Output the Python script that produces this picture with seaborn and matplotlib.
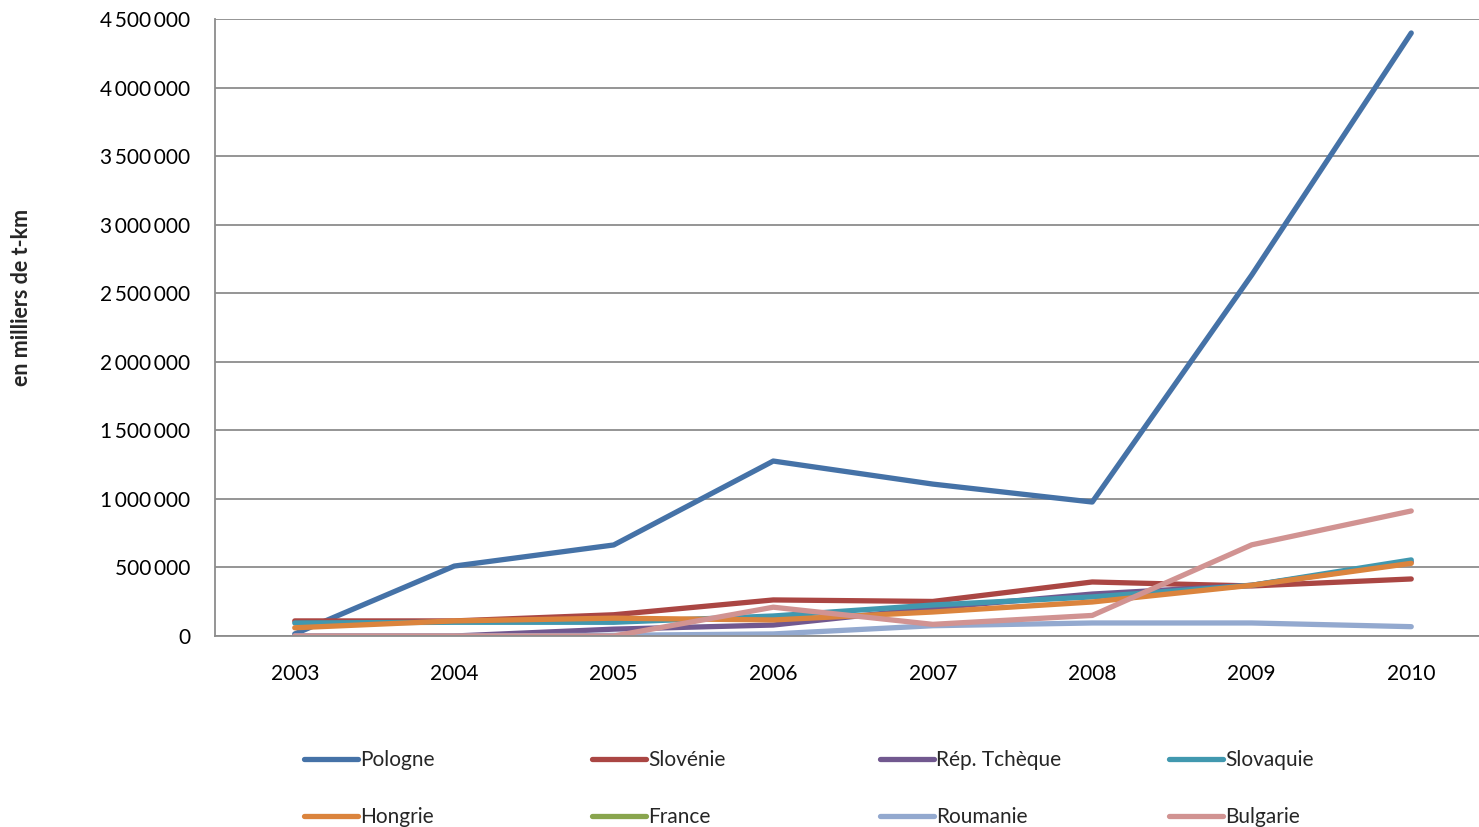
import matplotlib
matplotlib.use("Agg")
import matplotlib.pyplot as plt
import matplotlib.ticker as mticker
from matplotlib.lines import Line2D
import seaborn as sns
import pandas as pd
import numpy as np

years = [2003, 2004, 2005, 2006, 2007, 2008, 2009, 2010]
countries = ["Pologne", "Slovénie", "Rép. Tchèque", "Slovaquie",
             "Hongrie", "France", "Roumanie", "Bulgarie"]
pologne = [15000, 510000, 664000, 1276000, 1108000, 977000, 2633000, 4398000]
slovenie = [110000, 110000, 155000, 263000, 252000, 394000, 365000, 416000]
rep_tcheque = [0, 0, 50000, 80000, 204000, 306000, 370000, 540000]
slovaquie = [95000, 100000, 100000, 146000, 226000, 285000, 370000, 555000]
hongrie = [60000, 110000, 130000, 117000, 175000, 248000, 370000, 530000]
france = [np.nan] * 8  # no visible data for France
roumanie = [0, 0, 5000, 15000, 75000, 95000, 95000, 68000]
bulgarie = [0, 0, 0, 210000, 85000, 150000, 665000, 912000]
series = [pologne, slovenie, rep_tcheque, slovaquie, hongrie, france, roumanie, bulgarie]
colors = ["#4572A7", "#AA4643", "#71588F", "#4198AF",
          "#DB843D", "#89A54E", "#93A9CF", "#D19392"]

rows = []
for c, vals in zip(countries, series):
    for y, v in zip(years, vals):
        rows.append({"Année": y, "Valeur": v, "Pays": c})
df = pd.DataFrame(rows)

sns.set_theme(style="white")
plt.rcParams["font.family"] = ["Lato", "DejaVu Sans"]

fig = plt.figure(figsize=(14.79, 8.27), dpi=100)
ax = fig.add_axes([215 / 1479, 1 - 636 / 827, (1491 - 215) / 1479, (636 - 19) / 827])

pal = dict(zip(countries, colors))
for c in countries:
    sub = df[df["Pays"] == c].dropna()
    if len(sub) == 0:
        continue
    sns.lineplot(data=sub, x="Année", y="Valeur", color=pal[c], linewidth=3.8,
                 ax=ax, legend=False, solid_capstyle="round", solid_joinstyle="round")

ax.set_xlim(2002.5, 2010.5)
ax.set_ylim(0, 4500000)
ax.set_xticks(years)
ax.set_xticklabels([str(y) for y in years])
ax.yaxis.set_major_locator(mticker.MultipleLocator(500000))
ax.yaxis.set_major_formatter(mticker.FuncFormatter(lambda v, p: f"{int(v):,}".replace(",", "\u2009")))
ax.grid(axis="y", color="#8c8c8c", linewidth=1.3)
ax.set_axisbelow(True)
for s in ["top", "right"]:
    ax.spines[s].set_visible(False)
for s in ["left", "bottom"]:
    ax.spines[s].set_color("#8c8c8c")
    ax.spines[s].set_linewidth(1.3)
ax.tick_params(axis="y", labelsize=15, pad=15, length=3, width=1.3, color="#8c8c8c", labelcolor="black")
ax.tick_params(axis="x", labelsize=15, pad=20, length=0, labelcolor="black")
ax.set_xlabel("")
ax.set_ylabel("")
fig.text(22 / 1479, 1 - 297 / 827, "en milliers de t-km", rotation=90, fontsize=15.5,
         fontweight="bold", ha="center", va="center")

# legend: 2 rows x 4 columns, equally spaced like the original
col_x = [304, 592, 880, 1169]
row_y = [760, 817]
for i, (c, col) in enumerate(zip(countries, colors)):
    r, k = divmod(i, 4)
    h = Line2D([0], [0], color=col, linewidth=3.8, solid_capstyle="round")
    fig.legend([h], [c], loc="center left",
               bbox_to_anchor=(col_x[k] / 1479, 1 - row_y[r] / 827),
               frameon=False, fontsize=15, handlelength=2.6, handletextpad=0.1,
               borderpad=0, borderaxespad=0)

fig.savefig("out.png", dpi=100)
